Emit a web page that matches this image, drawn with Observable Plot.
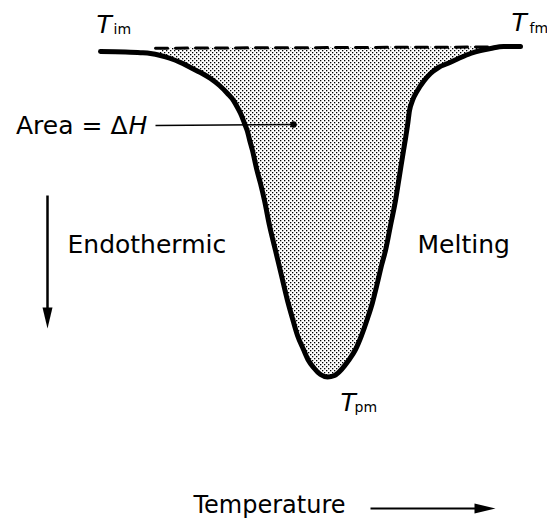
<!DOCTYPE html>
<html><head><meta charset="utf-8">
<script src="https://cdn.jsdelivr.net/npm/d3@7"></script>
<script src="https://cdn.jsdelivr.net/npm/@observablehq/plot@0.6"></script>
<style>html,body{margin:0;padding:0;background:#fff}svg{display:block}</style>
</head><body><div id="chart"></div>
<script>
// DSC melting endotherm (arbitrary units): temperature vs heat flow
const temperature = [100,125,140,150,160,170,180,190,200,210,219,227,233,237,241,244,247,249,252,256,260,264,269,275,281,287,292,297,303,308,313,320,327,334,341,348,355,361,367,372,377,381,385,390,395,399,403,405,407,409,412,417,423,430,438,447,458,470,480,490,503,520];
const heatFlow    = [-3,-3.5,-4.2,-5,-7,-10,-14,-19,-24,-30,-37,-45,-52,-59,-67,-75,-83,-91,-102,-120,-135,-152,-177,-202,-227,-252,-270,-287,-301,-312,-319,-326,-328.5,-327,-321,-312,-301,-287,-270,-254,-234,-217,-202,-177,-152,-127,-102,-90,-77,-62,-52,-42,-33,-25,-19,-15,-10,-5,-2,0,2,2];
// interpolated baseline between onset (T_im) and end (T_fm) of melting
const baselineT  = [155, 490];
const baselineHF = [0.3, 1.5];
// labels
const peakLabel = {T: 340, hf: -362};
const areaPoint = {T: 293, hf: -76};
const areaLabelT = 127;
const sideLabels = [{text: "Endothermic", T: 67, hf: -204}, {text: "Melting", T: 417, hf: -204}];
const axisLabel = {text: "Temperature", T: 193, hf: -464};
const tempArrow = {T1: 370, T2: 495, hf: -460};
const endoArrow = {T: 47, hf1: -147, hf2: -280};

const curve = temperature.map((T, i) => ({T, hf: heatFlow[i]}));
const base = d3.scaleLinear(baselineT, baselineHF);
const shaded = curve.filter(d => d.T >= baselineT[0] && d.T <= baselineT[1]);

const FONT = "DejaVu Sans, Verdana, sans-serif";
const head = {draw(ctx) { ctx.moveTo(0, 0); ctx.lineTo(-5, 21); ctx.lineTo(5, 21); ctx.closePath(); }};

const svg = Plot.plot({
  width: 547, height: 520, margin: 0,
  style: {fontFamily: FONT, background: "#fff"},
  x: {domain: [0, 547], axis: null},
  y: {domain: [-472, 48], axis: null},
  marks: [
    Plot.areaY(shaded, {x: "T", y1: d => base(d.T), y2: "hf", curve: "monotone-x", fill: "url(#dots)"}),
    Plot.line(baselineT.map((T, i) => ({T, hf: baselineHF[i]})), {x: "T", y: "hf", stroke: "#000", strokeWidth: 3, strokeDasharray: "12,8"}),
    Plot.line(curve, {x: "T", y: "hf", curve: "monotone-x", stroke: "#000", strokeWidth: 5, strokeLinejoin: "round"}),
    // Area = ΔH leader
    Plot.link([areaPoint], {x1: areaLabelT + 28, y1: d => d.hf - 1, x2: "T", y2: "hf", stroke: "#000", strokeWidth: 1.5}),
    Plot.dot([areaPoint], {x: "T", y: "hf", r: 3.2, fill: "#000"}),
    Plot.text([areaPoint], {x: areaLabelT, y: -85, text: () => "Area = Δ", textAnchor: "end", lineAnchor: "bottom", fontSize: 25, fill: "#000"}),
    Plot.text([areaPoint], {x: areaLabelT + 1, y: -85, text: () => "H", textAnchor: "start", lineAnchor: "bottom", fontSize: 25, fontStyle: "italic", fill: "#000"}),
    // T labels
    Plot.text([{T: 96, hf: 16}, {T: 511, hf: 18}, {T: peakLabel.T, hf: peakLabel.hf}],
      {x: "T", y: "hf", text: () => "T", textAnchor: "start", lineAnchor: "bottom", fontSize: 25, fontStyle: "italic", fill: "#000"}),
    Plot.text([{sx: 113, sy: 15, s: "im"}, {sx: 529, sy: 16, s: "fm"}, {sx: 354, sy: -363, s: "pm"}],
      {x: "sx", y: "sy", text: "s", textAnchor: "start", lineAnchor: "bottom", fontSize: 14, fill: "#000"}),
    // side labels
    Plot.text(sideLabels, {x: "T", y: "hf", text: "text", textAnchor: "start", lineAnchor: "bottom", fontSize: 25, fill: "#000"}),
    Plot.text([axisLabel], {x: "T", y: "hf", text: "text", textAnchor: "start", lineAnchor: "bottom", fontSize: 24, fill: "#000"}),
    // arrows
    Plot.link([tempArrow], {x1: "T1", x2: d => d.T2 - 18, y1: "hf", y2: "hf", stroke: "#000", strokeWidth: 2}),
    Plot.dot([tempArrow], {x: "T2", y: "hf", symbol: head, rotate: 90, fill: "#000", stroke: "none"}),
    Plot.link([endoArrow], {x1: "T", x2: "T", y1: "hf1", y2: d => d.hf2 + 18, stroke: "#000", strokeWidth: 2.5}),
    Plot.dot([endoArrow], {x: "T", y: "hf2", symbol: head, rotate: 180, fill: "#000", stroke: "none"})
  ]
});

const defs = d3.select(svg).insert("defs", ":first-child");
const pat = defs.append("pattern").attr("id", "dots").attr("width", 4).attr("height", 4).attr("patternUnits", "userSpaceOnUse");
pat.append("rect").attr("width", 4).attr("height", 4).attr("fill", "#fff");
pat.append("rect").attr("x", 0).attr("y", 0).attr("width", 1.3).attr("height", 1.3).attr("fill", "#000");
pat.append("rect").attr("x", 2).attr("y", 2).attr("width", 1.3).attr("height", 1.3).attr("fill", "#000");

document.getElementById("chart").appendChild(svg);
</script>
</body></html>
